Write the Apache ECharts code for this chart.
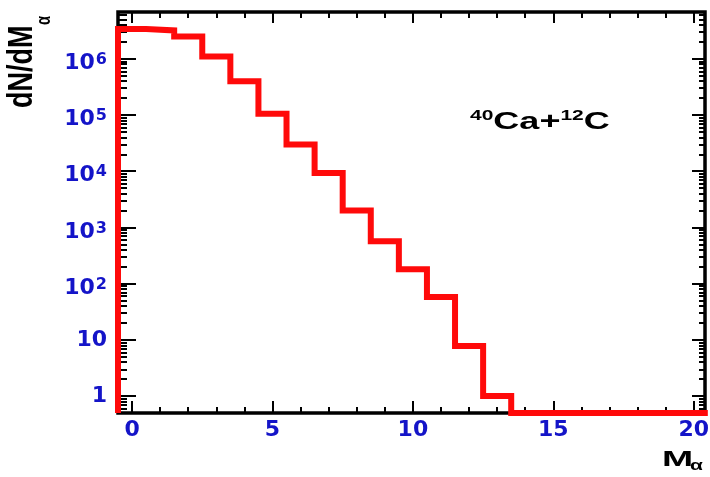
<!DOCTYPE html>
<html><head><meta charset="utf-8">
<script src="https://cdn.jsdelivr.net/npm/echarts@6/dist/echarts.min.js"></script>
<style>html,body{margin:0;padding:0;background:#fff}#c{width:710px;height:477px}</style>
</head><body><div id="c"></div>
<script>
// ---- data ----
const binCenters = [0,1,2,3,4,5,6,7,8,9,10,11,12,13,14,15,16,17,18,19,20];
const counts = [3.4e6, 3.2e6, 2.5e6, 1.1e6, 4.0e5, 1.05e5, 3.0e4, 9.3e3, 2.0e3, 570, 180, 58, 7.8, 1, 0, 0, 0, 0, 0, 0, 0];
const xTickValues = [0, 5, 10, 15, 20];
const xTickLabels = ['0', '5', '10', '15', '20'];
const yTickValues = [1, 10, 100, 1000, 10000, 100000, 1000000];
const yTickLabels = ['1', '10', '10^2', '10^3', '10^4', '10^5', '10^6'];
const X_MIN = -0.5, X_MAX = 20.4, Y_MIN = 0.5, Y_MAX = 6.8e6;
const BIN_HALF = 0.5;

// minor tick positions
const xMinor = [];
for (let v = 0; v <= 20; v++) if (v % 5 !== 0) xMinor.push(v);
const yMinor = [];
for (let e = -1; e <= 6; e++) for (let k = 2; k <= 9; k++) {
  const v = k * Math.pow(10, e);
  if (v >= Y_MIN && v <= Y_MAX) yMinor.push(v);
}

// histogram outline points (step at start of each segment)
const pts = [[binCenters[0] - BIN_HALF, Y_MIN]];
binCenters.forEach((c, i) => pts.push([c + BIN_HALF, Math.max(counts[i], Y_MIN)]));

const BLUE = '#1414c8';
const labelFont = 'DejaVu Sans';

function yLabel(v) {
  let idx = yTickValues.findIndex(t => Math.abs(Math.log10(t) - Math.log10(v)) < 1e-6);
  if (idx < 0) return '';
  const s = yTickLabels[idx];
  if (s.indexOf('^') >= 0) {
    const p = s.split('^');
    return '{m|' + p[0] + '}{s|' + p[1] + '}';
  }
  return '{p|' + s + '}';
}
function xLabel(v) {
  let idx = xTickValues.findIndex(t => Math.abs(t - v) < 1e-9);
  return idx < 0 ? '' : xTickLabels[idx];
}

function xAx(pos, values, len, labels) {
  return {
    type: 'value', min: X_MIN, max: X_MAX, position: pos,
    axisLine: { show: false, onZero: false },
    splitLine: { show: false },
    axisTick: { show: true, inside: true, length: len, customValues: values, lineStyle: { color: '#000', width: 2 } },
    axisLabel: labels ? {
      show: true, customValues: xTickValues, formatter: xLabel, margin: 6,
      color: BLUE, fontFamily: labelFont, fontWeight: 'bold', fontSize: 22
    } : { show: false }
  };
}
function yAx(pos, values, len, labels) {
  return {
    type: 'log', logBase: 10, min: Y_MIN, max: Y_MAX, position: pos,
    axisLine: { show: false, onZero: false },
    splitLine: { show: false },
    axisTick: { show: true, inside: true, length: len, customValues: values, lineStyle: { color: '#000', width: 2 } },
    axisLabel: labels ? {
      show: true, customValues: yTickValues, formatter: yLabel, margin: 11,
      color: BLUE, fontFamily: labelFont, fontWeight: 'bold',
      rich: {
        p: { color: BLUE, fontFamily: labelFont, fontWeight: 'bold', fontSize: 22, lineHeight: 22 },
        m: { color: BLUE, fontFamily: labelFont, fontWeight: 'bold', fontSize: 22, lineHeight: 22, padding: [9, 0, 0, 0] },
        s: { color: BLUE, fontFamily: labelFont, fontWeight: 'bold', fontSize: 16, lineHeight: 16, verticalAlign: 'top', padding: [4, 0, 0, 1] }
      }
    } : { show: false }
  };
}

const chart = echarts.init(document.getElementById('c'), null, { renderer: 'canvas' });
chart.setOption({
  animation: false,
  backgroundColor: '#fff',
  grid: { left: 118, right: 5, top: 12, bottom: 64, show: true, borderColor: '#000', borderWidth: 3.5, backgroundColor: 'transparent', outerBoundsMode: 'none', containLabel: false },
  xAxis: [
    xAx('bottom', xTickValues, 12, true),
    xAx('bottom', xMinor, 6, false),
    xAx('top', xTickValues, 11, false),
    xAx('top', xMinor, 6, false)
  ],
  yAxis: [
    yAx('left', yTickValues, 18, true),
    yAx('left', yMinor, 9, false),
    yAx('right', yTickValues, 13, false),
    yAx('right', yMinor, 6, false)
  ],
  series: [{
    type: 'line', xAxisIndex: 0, yAxisIndex: 0, step: 'start', data: pts,
    showSymbol: false, symbol: 'none', clip: false, silent: true, z: 5,
    lineStyle: { color: '#ff0a0a', width: 6, join: 'miter', cap: 'butt' }
  }],
  graphic: [
    { type: 'text', x: 470, y: 109, scaleX: 1.5, silent: true,
      style: { text: '{s|40}{m|Ca+}{s|12}{m|C}', align: 'left', verticalAlign: 'top',
        rich: {
          m: { fontFamily: 'Liberation Sans', fontWeight: 'bold', fontSize: 24, lineHeight: 27, fill: '#000' },
          s: { fontFamily: 'Liberation Sans', fontWeight: 'bold', fontSize: 14, lineHeight: 14, verticalAlign: 'top', fill: '#000' }
        } } },
    { type: 'text', x: 22.5, y: 108, rotation: Math.PI / 2, scaleY: 1.3, silent: true,
      style: { text: 'dN/dM', fontFamily: 'Liberation Sans', fontWeight: 'bold', fontSize: 27, fill: '#000', align: 'left', verticalAlign: 'middle' } },
    { type: 'text', x: 45, y: 25, rotation: Math.PI / 2, scaleY: 1.3, silent: true,
      style: { text: 'α', fontFamily: 'Liberation Sans', fontWeight: 'bold', fontSize: 15, fill: '#000', align: 'left', verticalAlign: 'middle' } },
    { type: 'text', x: 662, y: 449, scaleX: 1.7, silent: true,
      style: { text: 'M', fontFamily: 'Liberation Sans', fontWeight: 'bold', fontSize: 22, fill: '#000', align: 'left', verticalAlign: 'top' } },
    { type: 'text', x: 690, y: 458, scaleX: 1.4, silent: true,
      style: { text: 'α', fontFamily: 'Liberation Sans', fontWeight: 'bold', fontSize: 15, fill: '#000', align: 'left', verticalAlign: 'top' } }
  ]
});
</script>
</body></html>
